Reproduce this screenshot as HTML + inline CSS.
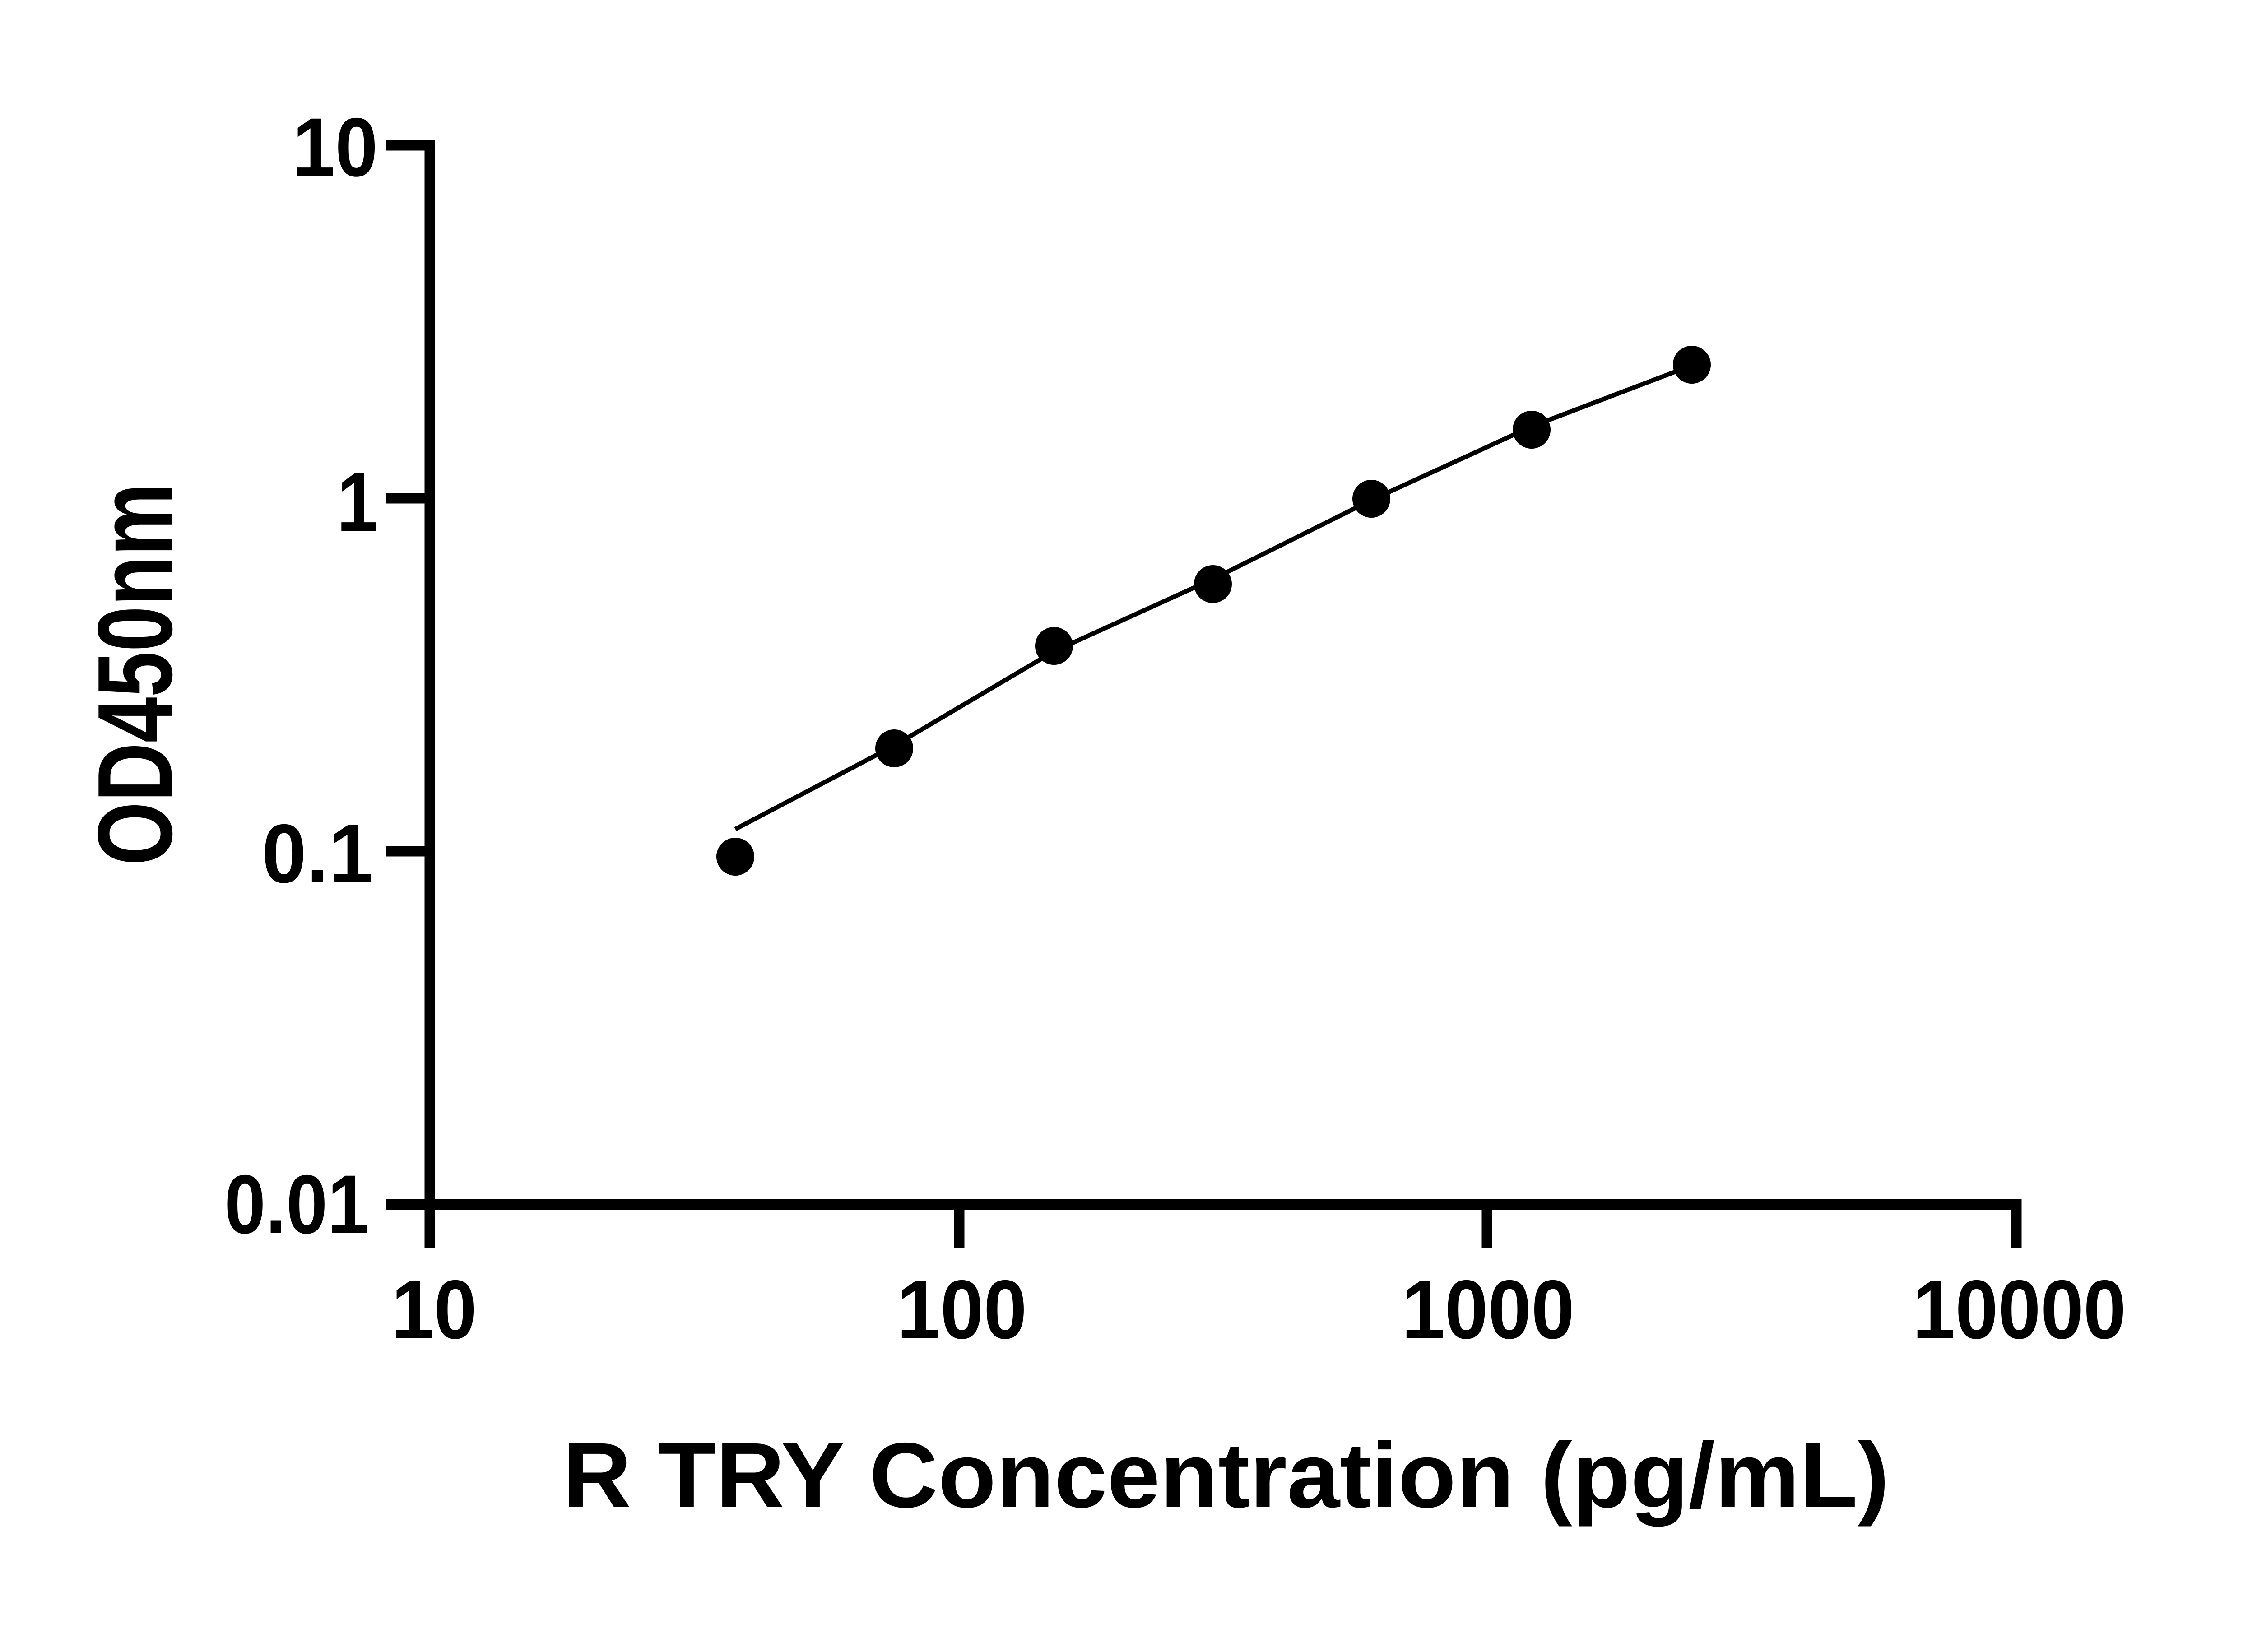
<!DOCTYPE html>
<html><head><style>html,body{margin:0;padding:0;background:#fff}svg{display:block}</style></head>
<body>
<svg width="5130" height="3660" viewBox="0 0 5130 3660" xmlns="http://www.w3.org/2000/svg">
<rect width="5130" height="3660" fill="#fff"/>
<g stroke="#000" stroke-width="23" fill="none" stroke-linecap="butt">
<line x1="952" y1="311" x2="952" y2="2764"/>
<line x1="856" y1="2668" x2="4467" y2="2668" stroke-width="24"/>
<line x1="856" y1="322" x2="963" y2="322"/>
<line x1="856" y1="1104" x2="952" y2="1104"/>
<line x1="856" y1="1886" x2="952" y2="1886"/>
<line x1="2125" y1="2668" x2="2125" y2="2764"/>
<line x1="3294" y1="2668" x2="3294" y2="2764"/>
<line x1="4467" y1="2656" x2="4467" y2="2764"/>
</g>
<g font-family="Liberation Sans, Arial, sans-serif" font-weight="bold" font-size="185" fill="#000">
<text x="648" y="390" textLength="189" lengthAdjust="spacingAndGlyphs">10</text>
<text x="746" y="1176" textLength="91" lengthAdjust="spacingAndGlyphs">1</text>
<text x="580" y="1955" textLength="247" lengthAdjust="spacingAndGlyphs">0.1</text>
<text x="497" y="2732" textLength="320" lengthAdjust="spacingAndGlyphs">0.01</text>
<text x="867" y="2965" textLength="189" lengthAdjust="spacingAndGlyphs">10</text>
<text x="1987" y="2965" textLength="288" lengthAdjust="spacingAndGlyphs">100</text>
<text x="3105" y="2965" textLength="383" lengthAdjust="spacingAndGlyphs">1000</text>
<text x="4237" y="2965" textLength="473" lengthAdjust="spacingAndGlyphs">10000</text>
</g>
<text x="2716" y="3339" text-anchor="middle" font-family="Liberation Sans, Arial, sans-serif" font-weight="bold" font-size="205" textLength="2939" lengthAdjust="spacingAndGlyphs">R TRY Concentration (pg/mL)</text>
<text transform="translate(380,1494) rotate(-90)" text-anchor="middle" font-family="Liberation Sans, Arial, sans-serif" font-weight="bold" font-size="235" textLength="847" lengthAdjust="spacingAndGlyphs">OD450nm</text>
<polyline fill="none" stroke="#000" stroke-width="10" points="1629,1837 1981,1652 2335,1443 2687,1283 3038,1108 3393,945 3710,824"/>
<g fill="#000">
<circle cx="1629" cy="1898" r="42"/>
<circle cx="1981" cy="1658" r="42"/>
<circle cx="2335" cy="1431" r="42"/>
<circle cx="2687" cy="1294" r="42"/>
<circle cx="3038" cy="1105" r="42"/>
<circle cx="3393" cy="952" r="42"/>
<circle cx="3748" cy="808" r="42"/>
</g>
</svg>
</body></html>
